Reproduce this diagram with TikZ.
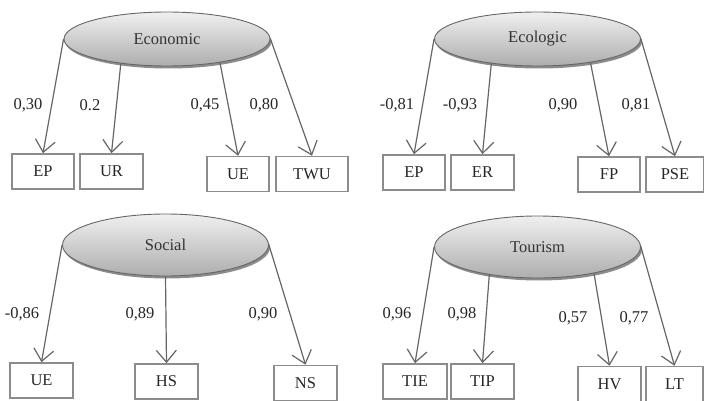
\documentclass[tikz,border=0pt]{standalone}
\usepackage{fontspec}
\setmainfont{Liberation Serif}
\usetikzlibrary{arrows.meta,shapes.geometric,shadows}

\begin{document}
\begin{tikzpicture}[
  x=1pt, y=-1pt,
  factor/.style={ellipse, draw=black!60, line width=0.9pt, minimum width=206pt,
                 minimum height=54pt, inner sep=0pt, top color=black!6, bottom color=black!32,
                 drop shadow={shadow xshift=1.5pt, shadow yshift=-2.5pt, fill=black!45, opacity=1},
                 font=\rmfamily\fontsize{16.5}{18}\selectfont, text=black!80},
  ind/.style={draw=black!45, line width=1.6pt, minimum height=35pt, minimum width=62pt,
              inner sep=0pt, font=\rmfamily\fontsize{16.5}{18}\selectfont, text=black!85},
  coef/.style={font=\rmfamily\fontsize{16.5}{18}\selectfont, text=black!85},
  arr/.style={draw=black!60, line width=1.2pt,
              -{Straight Barb[length=12pt, width=20pt, line width=1.2pt]}}
]
\useasboundingbox (0,0) rectangle (704,401);

% Economic
\node[factor] (eco) at (167,39) {Economic};
\node[ind] (ecoEP) at (43,171.5) {EP};
\node[ind, minimum width=63pt] (ecoUR) at (111.5,171.5) {UR};
\node[ind] (ecoUE) at (238,174) {UE};
\node[ind, minimum width=72pt] (ecoTWU) at (312,174) {TWU};
\draw[arr] (eco.west) -- (ecoEP.north);
\draw[arr] (eco.208) -- (ecoUR.north);
\draw[arr] (eco.336) -- (ecoUE.north);
\draw[arr] (eco.east) -- (ecoTWU.north);
\node[coef] (c1) at (28,105) {0,30};
\node[coef] (c2) at (90,105) {0.2};
\node[coef] (c3) at (205,105) {0,45};
\node[coef] (c4) at (264,105) {0,80};

% Ecologic
\node[factor] (ecl) at (537.5,39) {Ecologic};
\node[ind] (eclEP) at (414,172.5) {EP};
\node[ind, minimum width=63pt] (eclER) at (482.5,172.5) {ER};
\node[ind] (eclFP) at (609,174.5) {FP};
\node[ind, minimum width=58pt] (eclPSE) at (675,174.5) {PSE};
\draw[arr] (ecl.west) -- (eclEP.north);
\draw[arr] (ecl.208) -- (eclER.north);
\draw[arr] (ecl.336) -- (eclFP.north);
\draw[arr] (ecl.east) -- (eclPSE.north);
\node[coef] (c5) at (397,105) {-0,81};
\node[coef] (c6) at (460,105) {-0,93};
\node[coef] (c7) at (563,105) {0,90};
\node[coef] (c8) at (636,105) {0,81};

% Social
\node[factor, minimum height=62pt] (soc) at (165.5,245) {Social};
\node[ind, minimum width=63pt] (socUE) at (41.5,380.5) {UE};
\node[ind, minimum width=63pt] (socHS) at (166.5,381.5) {HS};
\node[ind, minimum width=63pt] (socNS) at (305.5,383) {NS};
\draw[arr] (soc.west) -- (socUE.north);
\draw[arr] (soc.south) -- (socHS.north);
\draw[arr] (soc.east) -- (socNS.north);
\node[coef] (c9) at (22,314) {-0,86};
\node[coef] (c10) at (140,314) {0,89};
\node[coef] (c11) at (263,314) {0,90};

% Tourism
\node[factor, minimum height=62pt] (tou) at (537.5,247) {Tourism};
\node[ind, minimum width=64pt] (touTIE) at (415,381.5) {TIE};
\node[ind, minimum width=63pt] (touTIP) at (482.5,381.5) {TIP};
\node[ind, minimum width=63pt] (touHV) at (609.5,384) {HV};
\node[ind, minimum width=57pt] (touLT) at (674.5,384) {LT};
\draw[arr] (tou.west) -- (touTIE.north);
\draw[arr] (tou.210) -- (touTIP.north);
\draw[arr] (tou.335) -- (touHV.north);
\draw[arr] (tou.east) -- (touLT.north);
\node[coef] (c12) at (397,314) {0,96};
\node[coef] (c13) at (462,314) {0,98};
\node[coef] (c14) at (573,318) {0,57};
\node[coef] (c15) at (634,318) {0,77};
\end{tikzpicture}
\end{document}
